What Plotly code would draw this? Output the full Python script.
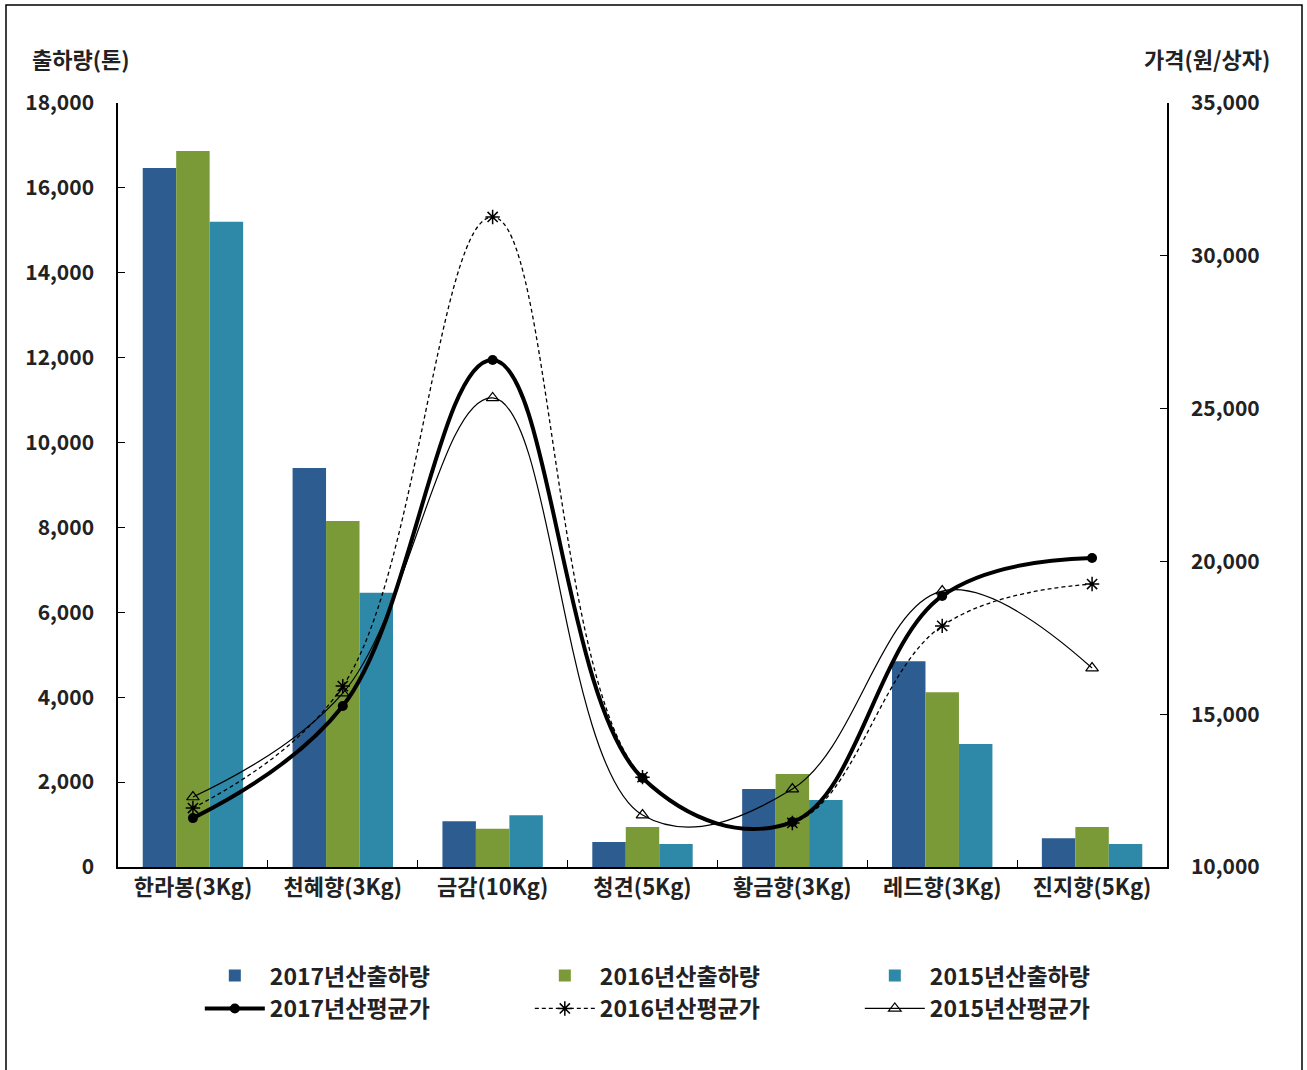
import plotly.graph_objects as go

categories = ["한라봉(3Kg)", "천혜향(3Kg)", "금감(10Kg)", "청견(5Kg)", "황금향(3Kg)", "레드향(3Kg)", "진지향(5Kg)"]

# 출하량 (톤)
ship_2017 = [16470, 9400, 1080, 590, 1840, 4850, 680]
ship_2016 = [16870, 8150, 900, 940, 2190, 4120, 940]
ship_2015 = [15200, 6460, 1220, 540, 1580, 2900, 540]

# 평균가 (원/상자)
price_2017 = [11600, 15270, 26590, 12910, 11470, 18870, 20110]
price_2016 = [11930, 15920, 31270, 12940, 11440, 17890, 19260]
price_2015 = [12290, 15690, 25350, 11700, 12550, 19030, 16510]

FONT = "Noto Sans CJK KR"
TXT = "#222"

fig = go.Figure()

bar_colors = ["#2d5d90", "#7a9a38", "#2e88a8"]
for name, vals, col in [("2017년산출하량", ship_2017, bar_colors[0]),
                        ("2016년산출하량", ship_2016, bar_colors[1]),
                        ("2015년산출하량", ship_2015, bar_colors[2])]:
    fig.add_trace(go.Bar(x=categories, y=vals, name=name, marker_color=col,
                         marker_line_width=0, yaxis="y"))

fig.add_trace(go.Scatter(
    x=categories, y=price_2017, name="2017년산평균가", yaxis="y2",
    mode="lines+markers", line=dict(color="black", width=4, shape="spline", smoothing=1.1),
    marker=dict(symbol="circle", size=10, color="black")))
fig.add_trace(go.Scatter(
    x=categories, y=price_2016, name="2016년산평균가", yaxis="y2",
    mode="lines+markers", line=dict(color="black", width=1.3, dash="4px,3px", shape="spline", smoothing=1.1),
    marker=dict(symbol="asterisk-open", size=12, color="black", line=dict(width=1.5, color="black"))))
fig.add_trace(go.Scatter(
    x=categories, y=price_2015, name="2015년산평균가", yaxis="y2",
    mode="lines+markers", line=dict(color="black", width=1.2, shape="spline", smoothing=1.1),
    marker=dict(symbol="triangle-up-open", size=11, color="black", line=dict(width=1.2, color="black"))))

fig.update_layout(
    width=1307, height=1070,
    margin=dict(l=118, r=140, t=103, b=203, autoexpand=False),
    plot_bgcolor="white", paper_bgcolor="white",
    font=dict(family=FONT, size=19, color=TXT, weight="bold"),
    barmode="group", bargap=0.33, bargroupgap=0,
    showlegend=True,
    legend=dict(orientation="h", x=0.078, xanchor="left", y=-0.114, yanchor="top",
                entrywidth=255, entrywidthmode="pixels", traceorder="normal",
                bgcolor="rgba(0,0,0,0)", itemwidth=60,
                font=dict(family=FONT, size=23, color=TXT, weight="bold")),
    xaxis=dict(showline=True, linecolor="black", linewidth=1.5, ticks="inside",
               tickson="boundaries", ticklen=7, tickcolor="black", automargin=False,
               tickfont=dict(family=FONT, size=22, color=TXT, weight="bold"), showgrid=False),
    yaxis=dict(range=[0, 18000], dtick=2000, tickformat=",", showline=True,
               linecolor="black", linewidth=1.5, ticks="inside", ticklen=7,
               tickcolor="black", showgrid=False, zeroline=False, automargin=False,
               tickfont=dict(family=FONT, size=21, color=TXT, weight="bold"), ticklabelstandoff=18),
    yaxis2=dict(range=[10000, 35000], dtick=5000, tickformat=",", overlaying="y",
                side="right", showline=True, linecolor="black", linewidth=1.5,
                ticks="inside", ticklen=7, tickcolor="black", showgrid=False,
                zeroline=False, automargin=False,
                tickfont=dict(family=FONT, size=21, color=TXT, weight="bold"),
                ticklabelstandoff=18),
)

fig.add_annotation(text="출하량(톤)", xref="paper", yref="paper", x=(30 - 118) / 1049, y=1.035,
                   xanchor="left", yanchor="bottom", showarrow=False,
                   font=dict(family=FONT, size=22, color=TXT, weight="bold"))
fig.add_annotation(text="가격(원/상자)", xref="paper", yref="paper", x=(1272 - 118) / 1049, y=1.035,
                   xanchor="right", yanchor="bottom", showarrow=False,
                   font=dict(family=FONT, size=22, color=TXT, weight="bold"))

# outer frame (bottom edge runs off the page)
fig.add_shape(type="rect", xref="paper", yref="paper",
              x0=(6 - 118) / 1049, x1=(1302 - 118) / 1049,
              y0=(867 - 1080) / 764, y1=1 + (103 - 5) / 764,
              line=dict(color="black", width=1.5))

fig.write_html("out.html", config={"displayModeBar": False},
               post_script="document.body.style.margin='0';")
